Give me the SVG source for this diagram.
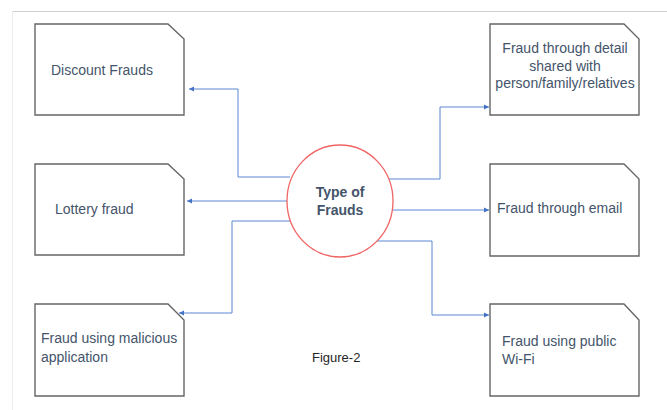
<svg xmlns="http://www.w3.org/2000/svg" width="667" height="410" viewBox="0 0 667 410">
<style>
.box{fill:#fff;stroke:#666;stroke-width:1.4}
.t{font-family:"Liberation Sans",Arial,sans-serif;font-size:14px;fill:#44546a}
.c{fill:none;stroke:#5b86d2;stroke-width:1}
</style>
<defs>
<marker id="ah" markerWidth="6" markerHeight="6" refX="5" refY="3" orient="auto" markerUnits="userSpaceOnUse">
<path d="M0,0.5 L5,3 L0,5.5 Z" fill="#4472c4"/>
</marker>
</defs>
<rect width="667" height="410" fill="#fff"/>
<line x1="12" y1="11.5" x2="667" y2="11.5" stroke="#d0d0d0" stroke-width="1"/>
<line x1="12.5" y1="11" x2="12.5" y2="410" stroke="#ececec" stroke-width="1"/>
<g id="connectors">
<path class="c" d="M290,177 H238 V89 H189" marker-end="url(#ah)"/>
<path class="c" d="M287,201 H187" marker-end="url(#ah)"/>
<path class="c" d="M290,221 H232 V313 H179" marker-end="url(#ah)"/>
<path class="c" d="M388,179 H440 V107 H489" marker-end="url(#ah)"/>
<path class="c" d="M393,210 H489" marker-end="url(#ah)"/>
<path class="c" d="M376,241 H432 V315 H489" marker-end="url(#ah)"/>
</g>
<g id="center">
<ellipse cx="340" cy="201" rx="53" ry="56" fill="#fff" stroke="#f06464" stroke-width="1.3"/>
<text class="t" x="340" y="197" text-anchor="middle" font-weight="bold">Type of</text>
<text class="t" x="340" y="215" text-anchor="middle" font-weight="bold">Frauds</text>
</g>
<g id="discount">
<path class="box" d="M35,24 H168 L184,39 V115 H35 Z"/>
<text class="t" x="51" y="75">Discount Frauds</text>
</g>
<g id="lottery">
<path class="box" d="M35,164 H168 L184,179 V255 H35 Z"/>
<text class="t" x="55" y="214">Lottery fraud</text>
</g>
<g id="malicious">
<path class="box" d="M35,304 H168 L184,320 V396 H35 Z"/>
<text class="t" x="41" y="343">Fraud using malicious</text>
<text class="t" x="41" y="362">application</text>
</g>
<g id="detail">
<path class="box" d="M490,24 H624 L639,39 V115 H490 Z"/>
<text class="t" x="565" y="53" text-anchor="middle">Fraud through detail</text>
<text class="t" x="565" y="71" text-anchor="middle">shared with</text>
<text class="t" x="565" y="88" text-anchor="middle">person/family/relatives</text>
</g>
<g id="email">
<path class="box" d="M490,164 H624 L639,179 V256 H490 Z"/>
<text class="t" x="497" y="213">Fraud through email</text>
</g>
<g id="wifi">
<path class="box" d="M490,304 H624 L639,320 V396 H490 Z"/>
<text class="t" x="502" y="346">Fraud using public</text>
<text class="t" x="502" y="364">Wi-Fi</text>
</g>
<text x="312" y="362" font-family="'Liberation Sans',Arial,sans-serif" font-size="13" fill="#262626">Figure-2</text>
</svg>
